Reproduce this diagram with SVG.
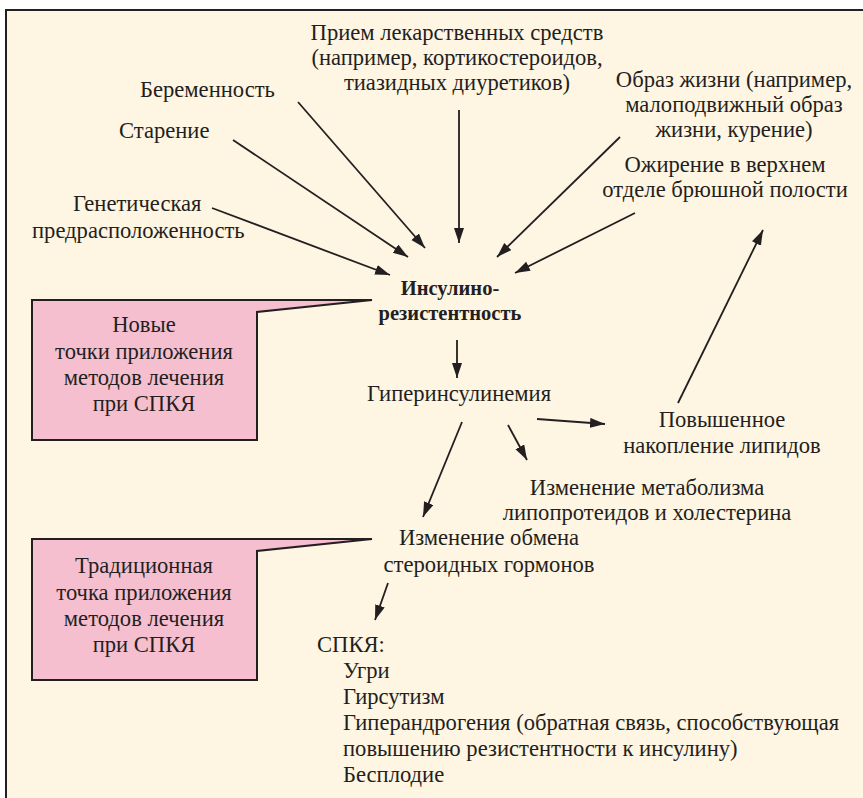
<svg xmlns="http://www.w3.org/2000/svg" width="863" height="798" viewBox="0 0 863 798">
<style>
text{font-family:"Liberation Serif","Times New Roman",serif;font-size:22.6px;fill:#231f20}
.c{text-anchor:middle}
.b{font-weight:bold;font-size:20.5px}
.con line{stroke:#231f20;stroke-width:1.8;marker-end:url(#ah)}
.call{fill:#f6bfd0;stroke:#231f20;stroke-width:2;stroke-linejoin:miter}
</style>
<defs>
<marker id="ah" markerUnits="userSpaceOnUse" markerWidth="16" markerHeight="12" refX="15" refY="5" orient="auto">
<path d="M0,0 L15,5 L0,10 Z" fill="#231f20"/>
</marker>
</defs>
<rect x="0" y="0" width="863" height="798" fill="#ffffff"/>
<rect x="6" y="10" width="870" height="800" fill="#fff5e3" stroke="#231f20" stroke-width="2"/>

<g id="callout-new">
<polygon class="call" points="32,300 372,300 257,312 257,440 32,440"/>
<text class="c" x="144" y="332">Новые</text>
<text class="c" x="144" y="359">точки приложения</text>
<text class="c" x="144" y="385">методов лечения</text>
<text class="c" x="144" y="411">при СПКЯ</text>
</g>
<g id="callout-trad">
<polygon class="call" points="32,539 372,539 257,551 257,680 32,680"/>
<text class="c" x="144" y="573">Традиционная</text>
<text class="c" x="144" y="600">точка приложения</text>
<text class="c" x="144" y="626">методов лечения</text>
<text class="c" x="144" y="652">при СПКЯ</text>
</g>

<g id="drugs">
<text class="c" x="457" y="40">Прием лекарственных средств</text>
<text class="c" x="457" y="65">(например, кортикостероидов,</text>
<text class="c" x="457" y="90">тиазидных диуретиков)</text>
</g>
<g id="pregnancy"><text x="140" y="97">Беременность</text></g>
<g id="aging"><text x="119" y="138">Старение</text></g>
<g id="genetic">
<text x="73" y="211">Генетическая</text>
<text x="32" y="238">предрасположенность</text>
</g>
<g id="lifestyle">
<text class="c" x="734" y="87">Образ жизни (например,</text>
<text class="c" x="734" y="112">малоподвижный образ</text>
<text class="c" x="734" y="137">жизни, курение)</text>
</g>
<g id="obesity">
<text class="c" x="725" y="172">Ожирение в верхнем</text>
<text class="c" x="725" y="197">отделе брюшной полости</text>
</g>
<g id="ir">
<text class="c b" x="450" y="295">Инсулино-</text>
<text class="c b" x="450" y="320">резистентность</text>
</g>
<g id="hyperinsulinemia"><text class="c" x="459" y="401">Гиперинсулинемия</text></g>
<g id="lipids">
<text class="c" x="722" y="427">Повышенное</text>
<text class="c" x="722" y="453">накопление липидов</text>
</g>
<g id="lipoprotein">
<text class="c" x="647" y="495">Изменение метаболизма</text>
<text class="c" x="647" y="520">липопротеидов и холестерина</text>
</g>
<g id="steroid">
<text class="c" x="489" y="545">Изменение обмена</text>
<text class="c" x="489" y="572">стероидных гормонов</text>
</g>
<g id="pcos">
<text x="317" y="652">СПКЯ:</text>
<text x="343" y="678">Угри</text>
<text x="343" y="704">Гирсутизм</text>
<text x="343" y="730">Гиперандрогения (обратная связь, способствующая</text>
<text x="343" y="756">повышению резистентности к инсулину)</text>
<text x="343" y="782">Бесплодие</text>
</g>

<g id="connectors" class="con">
<line x1="298" y1="102" x2="425" y2="248"/>
<line x1="233" y1="140" x2="408" y2="257"/>
<line x1="212" y1="208" x2="390" y2="275"/>
<line x1="459" y1="110" x2="459" y2="243"/>
<line x1="620" y1="137" x2="497" y2="257"/>
<line x1="635" y1="213" x2="515" y2="273"/>
<line x1="678" y1="403" x2="763" y2="230"/>
<line x1="457" y1="340" x2="457" y2="378"/>
<line x1="537" y1="419" x2="605" y2="424"/>
<line x1="508" y1="425" x2="527" y2="460"/>
<line x1="462" y1="422" x2="423" y2="517"/>
<line x1="388" y1="583" x2="375" y2="620"/>
</g>
</svg>
